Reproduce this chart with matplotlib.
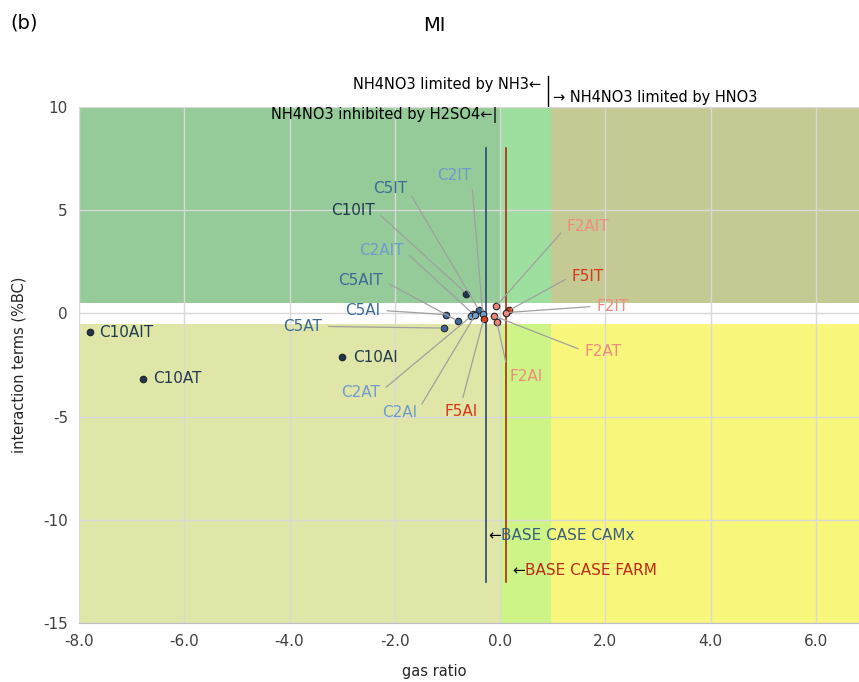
import matplotlib
matplotlib.use('Agg')
import matplotlib.pyplot as plt
from matplotlib.patches import Rectangle

plt.rcParams['axes.unicode_minus'] = False

# scenario points: gas ratio vs interaction terms (%BC)
labels = ['C10AIT', 'C10AT', 'C10AI', 'C10IT',
          'C5AI', 'C5AIT', 'C5AT', 'C5IT',
          'C2IT', 'C2AIT', 'C2AT', 'C2AI',
          'F5AI', 'F5IT',
          'F2AIT', 'F2IT', 'F2AT', 'F2AI']
gas_ratio = [-7.79, -6.78, -3.01, -0.64,
             -1.03, -0.80, -1.07, -0.40,
             -0.33, -0.51, -0.55, -0.47,
             -0.31, 0.17,
             -0.08, 0.12, -0.11, -0.06]
interaction = [-0.92, -3.16, -2.12, 0.96,
               -0.06, -0.37, -0.71, 0.16,
               -0.01, -0.03, -0.14, -0.06,
               -0.26, 0.15,
               0.34, 0.04, -0.13, -0.42]
groups = ['C10'] * 4 + ['C5'] * 4 + ['C2'] * 4 + ['F5'] * 2 + ['F2'] * 4

base_camx = -0.26
base_farm = 0.12

group_colors = {'C10': '#1f3550', 'C5': '#3c6a9c', 'C2': '#6e9fcf',
                'F5': '#e0401c', 'F2': '#f08478'}
label_colors = {'C10': '#203a50', 'C5': '#3a6a9a', 'C2': '#6d9ccb',
                'F5': '#d8351a', 'F2': '#f08a80'}

# label placement (text position, alignment)
label_pos = {
    'C10AIT': (-7.62, -0.92, 'left', None),
    'C10AT': (-6.60, -3.16, 'left', None),
    'C10AI': (-2.80, -2.12, 'left', None),
    'C10IT': (-2.38, 5.0, 'right', (1, 0.5)),
    'C5AI': (-2.28, 0.15, 'right', (1, 0.5)),
    'C5AIT': (-2.23, 1.6, 'right', (1, 0.5)),
    'C5AT': (-3.39, -0.63, 'right', (1, 0.5)),
    'C5IT': (-1.77, 6.07, 'right', (1, 0.5)),
    'C2IT': (-0.55, 6.70, 'right', (1, 0.5)),
    'C2AIT': (-1.83, 3.06, 'right', (1, 0.5)),
    'C2AT': (-2.28, -3.82, 'right', (1, 0.5)),
    'C2AI': (-1.58, -4.79, 'right', (1, 0.5)),
    'F5AI': (-0.74, -4.40, 'center', (0.5, 1)),
    'F5IT': (1.36, 1.81, 'left', (0, 0.5)),
    'F2AIT': (1.26, 4.19, 'left', (0, 0.5)),
    'F2IT': (1.84, 0.35, 'left', (0, 0.5)),
    'F2AT': (1.61, -1.84, 'left', (0, 0.5)),
    'F2AI': (0.17, -3.06, 'left', (0, 0.5)),
}

fig = plt.figure(figsize=(8.59, 6.82), dpi=100)
ax = fig.add_axes([0.092, 0.0865, 0.908, 0.7566])
xmin, xmax, ymin, ymax = -8.0, 6.82, -15, 10
ax.set_xlim(xmin, xmax)
ax.set_ylim(ymin, ymax)

# regime background
top_cols = ['#94cb98', '#9ddf9f', '#c5c993']
bot_cols = ['#e0e6a7', '#cdf486', '#f9f77b']
edges = [xmin, 0.0, 0.97, xmax]
for i in range(3):
    ax.add_patch(Rectangle((edges[i], 0.5), edges[i + 1] - edges[i], ymax - 0.5,
                           facecolor=top_cols[i], edgecolor='none', zorder=0))
    ax.add_patch(Rectangle((edges[i], ymin), edges[i + 1] - edges[i], -0.5 - ymin,
                           facecolor=bot_cols[i], edgecolor='none', zorder=0))

ax.set_xticks([-8, -6, -4, -2, 0, 2, 4, 6])
ax.set_xticklabels(['%.1f' % v for v in [-8, -6, -4, -2, 0, 2, 4, 6]])
ax.set_yticks([10, 5, 0, -5, -10, -15])
ax.grid(True, color='#d9d9d9', lw=1)
ax.set_axisbelow(False)
ax.tick_params(length=0, labelsize=11, colors='#404040', pad=8)
for s in ['top', 'right', 'left']:
    ax.spines[s].set_visible(False)
ax.spines['bottom'].set_color('#bfbfbf')

# base case lines
ax.plot([base_camx, base_camx], [8, -13], color='#2b4a6e', lw=1.2, zorder=3)
ax.plot([base_farm, base_farm], [8, -13], color='#b22a14', lw=1.2, zorder=3)
arr1 = ax.text(-0.23, -10.78, '\u2190', fontsize=11, va='center', ha='left', zorder=6)
ax.annotate('BASE CASE CAMx', xy=(1, 0.5), xycoords=arr1, va='center', ha='left',
            fontsize=11, color='#3a5f80', zorder=6)
arr2 = ax.text(0.23, -12.48, '\u2190', fontsize=11, va='center', ha='left', zorder=6)
ax.annotate('BASE CASE FARM', xy=(1, 0.5), xycoords=arr2, va='center', ha='left',
            fontsize=11, color='#c0281a', zorder=6)

# points and labels
for name, x, y, g in zip(labels, gas_ratio, interaction, groups):
    tx, ty, ha, rel = label_pos[name]
    if rel is None:
        ax.text(tx, ty, name, fontsize=11, color=label_colors[g], ha=ha, va='center', zorder=6)
    else:
        va = 'top' if rel[1] == 1 else 'center'
        ax.annotate(name, xy=(x, y), xytext=(tx, ty), fontsize=11, color=label_colors[g],
                    ha=ha, va=va, zorder=6,
                    arrowprops=dict(arrowstyle='-', color='#a0a0a0', lw=0.9,
                                    relpos=rel, shrinkA=3, shrinkB=2))
for x, y, g in zip(gas_ratio, interaction, groups):
    ax.scatter(x, y, s=22, color=group_colors[g], edgecolors='#222222', linewidths=0.8, zorder=5)

# regime annotations
ax.text(0.78, 11.07, 'NH4NO3 limited by NH3\u2190', fontsize=10.5, ha='right', va='center',
        clip_on=False)
ax.plot([0.91, 0.91], [10.0, 11.5], color='black', lw=1, clip_on=False)
ax.text(1.0, 10.44, '\u2192 NH4NO3 limited by HNO3', fontsize=10.5, ha='left', va='center',
        clip_on=False)
ax.text(-0.05, 9.6, 'NH4NO3 inhibited by H2SO4\u2190|', fontsize=10.5, ha='right',
        va='center', zorder=6)

ax.set_ylabel('interaction terms (%BC)', fontsize=10.5, color='#262626', labelpad=12)
fig.text(0.506, 0.004, 'gas ratio', fontsize=10.5, ha='center', va='bottom', color='#262626')
fig.text(0.506, 0.963, 'MI', fontsize=14, ha='center', va='center')
fig.text(0.012, 0.966, '(b)', fontsize=14, ha='left', va='center')

fig.savefig('out.png', dpi=100)
